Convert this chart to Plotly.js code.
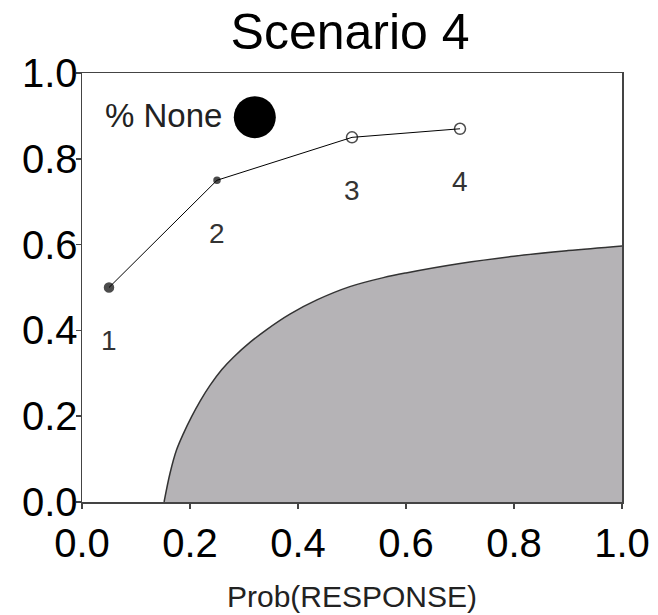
<!DOCTYPE html>
<html>
<head>
<meta charset="utf-8">
<script src="https://cdn.plot.ly/plotly-3.0.1.min.js"></script>
<style>html,body{margin:0;padding:0;background:#fff;}#chart{width:658px;height:615px;}</style>
</head>
<body>
<div id="chart"></div>
<script>
// Boundary curve of the shaded region
var curveX = [0.152, 0.163, 0.175, 0.188, 0.203, 0.219, 0.237, 0.259, 0.28, 0.311, 0.342, 0.385, 0.435, 0.496, 0.558, 0.6, 0.7, 0.8, 0.9, 1.0];
var curveY = [0.0, 0.067, 0.121, 0.16, 0.199, 0.236, 0.272, 0.309, 0.337, 0.372, 0.402, 0.438, 0.471, 0.502, 0.523, 0.534, 0.556, 0.573, 0.586, 0.597];

// Scenario path points
var pathX = [0.05, 0.25, 0.5, 0.7];
var pathY = [0.50, 0.75, 0.85, 0.87];
var pathLabels = ["1", "2", "3", "4"];
var pathSymbols = ["circle", "circle", "circle-open", "circle-open"];
var pathSizes = [9, 6, 11, 11];

// Legend marker ("% None")
var legendText = "% None";
var legendX = [0.32];
var legendY = [0.897];

var tickVals = [0, 0.2, 0.4, 0.6, 0.8, 1.0];
var tickText = ["0.0", "0.2", "0.4", "0.6", "0.8", "1.0"];

var FONT = "Liberation Sans, Arial, sans-serif";

var traces = [
  {
    x: curveX, y: curveY, type: "scatter", mode: "lines",
    fill: "tozeroy", fillcolor: "rgb(181,179,182)",
    line: {color: "#333333", width: 1.5, shape: "spline", smoothing: 1},
    hoverinfo: "skip", showlegend: false
  },
  {
    x: pathX, y: pathY, type: "scatter", mode: "lines+markers",
    line: {color: "#000000", width: 1},
    marker: {symbol: pathSymbols, size: pathSizes, color: "#000000", line: {color: "#000000", width: 1.5}},
    showlegend: false
  },
  {
    x: legendX, y: legendY, type: "scatter", mode: "markers",
    marker: {symbol: "circle", size: 42, color: "#000000"},
    showlegend: false
  }
];

var annotations = pathLabels.map(function (t, i) {
  return {x: pathX[i], y: pathY[i], text: t, showarrow: false, yshift: -53,
          font: {family: FONT, size: 28, color: "#333333"}};
});
annotations.push({x: 0.039, y: 0.9, xanchor: "left", yanchor: "middle", text: legendText, showarrow: false,
                  font: {family: FONT, size: 33, color: "#222222"}});

var layout = {
  width: 658, height: 615,
  margin: {l: 82, r: 36, t: 73, b: 113},
  paper_bgcolor: "#ffffff", plot_bgcolor: "#ffffff",
  title: {text: "Scenario 4", x: 0.532, xanchor: "center", y: 0.948, yanchor: "middle",
          font: {family: FONT, size: 50, color: "#000000"}},
  xaxis: {
    range: [0, 1], tickvals: tickVals, ticktext: tickText,
    showgrid: false, zeroline: false, showline: true, linecolor: "#444444", linewidth: 1.5, mirror: true,
    ticks: "outside", ticklen: 5, tickcolor: "#444444", tickwidth: 1.5,
    tickfont: {family: FONT, size: 40, color: "#000000"},
    title: {text: "Prob(RESPONSE)", font: {family: FONT, size: 30, color: "#222222"}, standoff: 22}
  },
  yaxis: {
    range: [0, 1], tickvals: tickVals, ticktext: tickText,
    showgrid: false, zeroline: false, showline: true, linecolor: "#444444", linewidth: 1.5, mirror: true,
    ticks: "outside", ticklen: 5, tickcolor: "#444444", tickwidth: 1.5, ticklabelstandoff: -10,
    tickfont: {family: FONT, size: 40, color: "#000000"}
  },
  annotations: annotations,
  showlegend: false
};

Plotly.newPlot("chart", traces, layout, {displayModeBar: false, staticPlot: true});
</script>
</body>
</html>
